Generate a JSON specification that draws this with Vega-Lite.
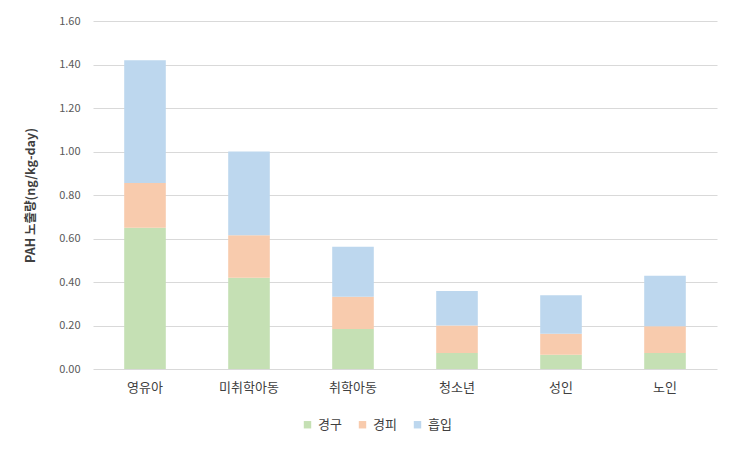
{
  "$schema": "https://vega.github.io/schema/vega-lite/v6.json",
  "width": 624,
  "height": 348,
  "autosize": {"type": "none"},
  "padding": {"left": 93, "top": 21, "right": 27, "bottom": 83},
  "background": "white",
  "config": {
    "font": "Noto Sans CJK KR",
    "view": {"stroke": null}
  },
  "data": {
    "values": [
      {"group": "영유아", "route": "경구", "value": 0.65},
      {"group": "영유아", "route": "경피", "value": 0.205},
      {"group": "영유아", "route": "흡입", "value": 0.565},
      {"group": "미취학아동", "route": "경구", "value": 0.42},
      {"group": "미취학아동", "route": "경피", "value": 0.195},
      {"group": "미취학아동", "route": "흡입", "value": 0.385},
      {"group": "취학아동", "route": "경구", "value": 0.184},
      {"group": "취학아동", "route": "경피", "value": 0.148},
      {"group": "취학아동", "route": "흡입", "value": 0.23},
      {"group": "청소년", "route": "경구", "value": 0.074},
      {"group": "청소년", "route": "경피", "value": 0.126},
      {"group": "청소년", "route": "흡입", "value": 0.159},
      {"group": "성인", "route": "경구", "value": 0.066},
      {"group": "성인", "route": "경피", "value": 0.096},
      {"group": "성인", "route": "흡입", "value": 0.177},
      {"group": "노인", "route": "경구", "value": 0.074},
      {"group": "노인", "route": "경피", "value": 0.122},
      {"group": "노인", "route": "흡입", "value": 0.233}
    ]
  },
  "mark": {"type": "bar"},
  "encoding": {
    "x": {
      "field": "group",
      "type": "nominal",
      "sort": ["영유아", "미취학아동", "취학아동", "청소년", "성인", "노인"],
      "scale": {"paddingInner": 0.6, "paddingOuter": 0.3},
      "axis": {
        "title": null,
        "labelAngle": 0,
        "domain": false,
        "ticks": false,
        "labelPadding": 12,
        "labelFontSize": 13,
        "labelColor": "#404040"
      }
    },
    "y": {
      "field": "value",
      "type": "quantitative",
      "stack": "zero",
      "scale": {"domain": [0, 1.6]},
      "axis": {
        "title": "PAH 노출량(ng/kg-day)",
        "titleFontSize": 12.5,
        "titleFontWeight": "bold",
        "titleColor": "#404040",
        "titlePadding": 21,
        "values": [0, 0.2, 0.4, 0.6, 0.8, 1.0, 1.2, 1.4, 1.6],
        "format": ".2f",
        "domain": false,
        "ticks": false,
        "labelPadding": 13,
        "labelFontSize": 11,
        "labelColor": "#595959",
        "gridColor": "#D9D9D9",
        "gridWidth": 1
      }
    },
    "color": {
      "field": "route",
      "type": "nominal",
      "scale": {
        "domain": ["경구", "경피", "흡입"],
        "range": ["#C5E0B4", "#F8CBAD", "#BDD7EE"]
      },
      "legend": {
        "title": null,
        "orient": "none",
        "legendX": 208,
        "legendY": 397,
        "direction": "horizontal",
        "symbolType": "square",
        "symbolSize": 55,
        "symbolStrokeWidth": 0,
        "labelFontSize": 13,
        "labelColor": "#404040",
        "labelOffset": 4,
        "columnPadding": 14
      }
    },
    "order": {"field": "route", "sort": "ascending"}
  }
}
